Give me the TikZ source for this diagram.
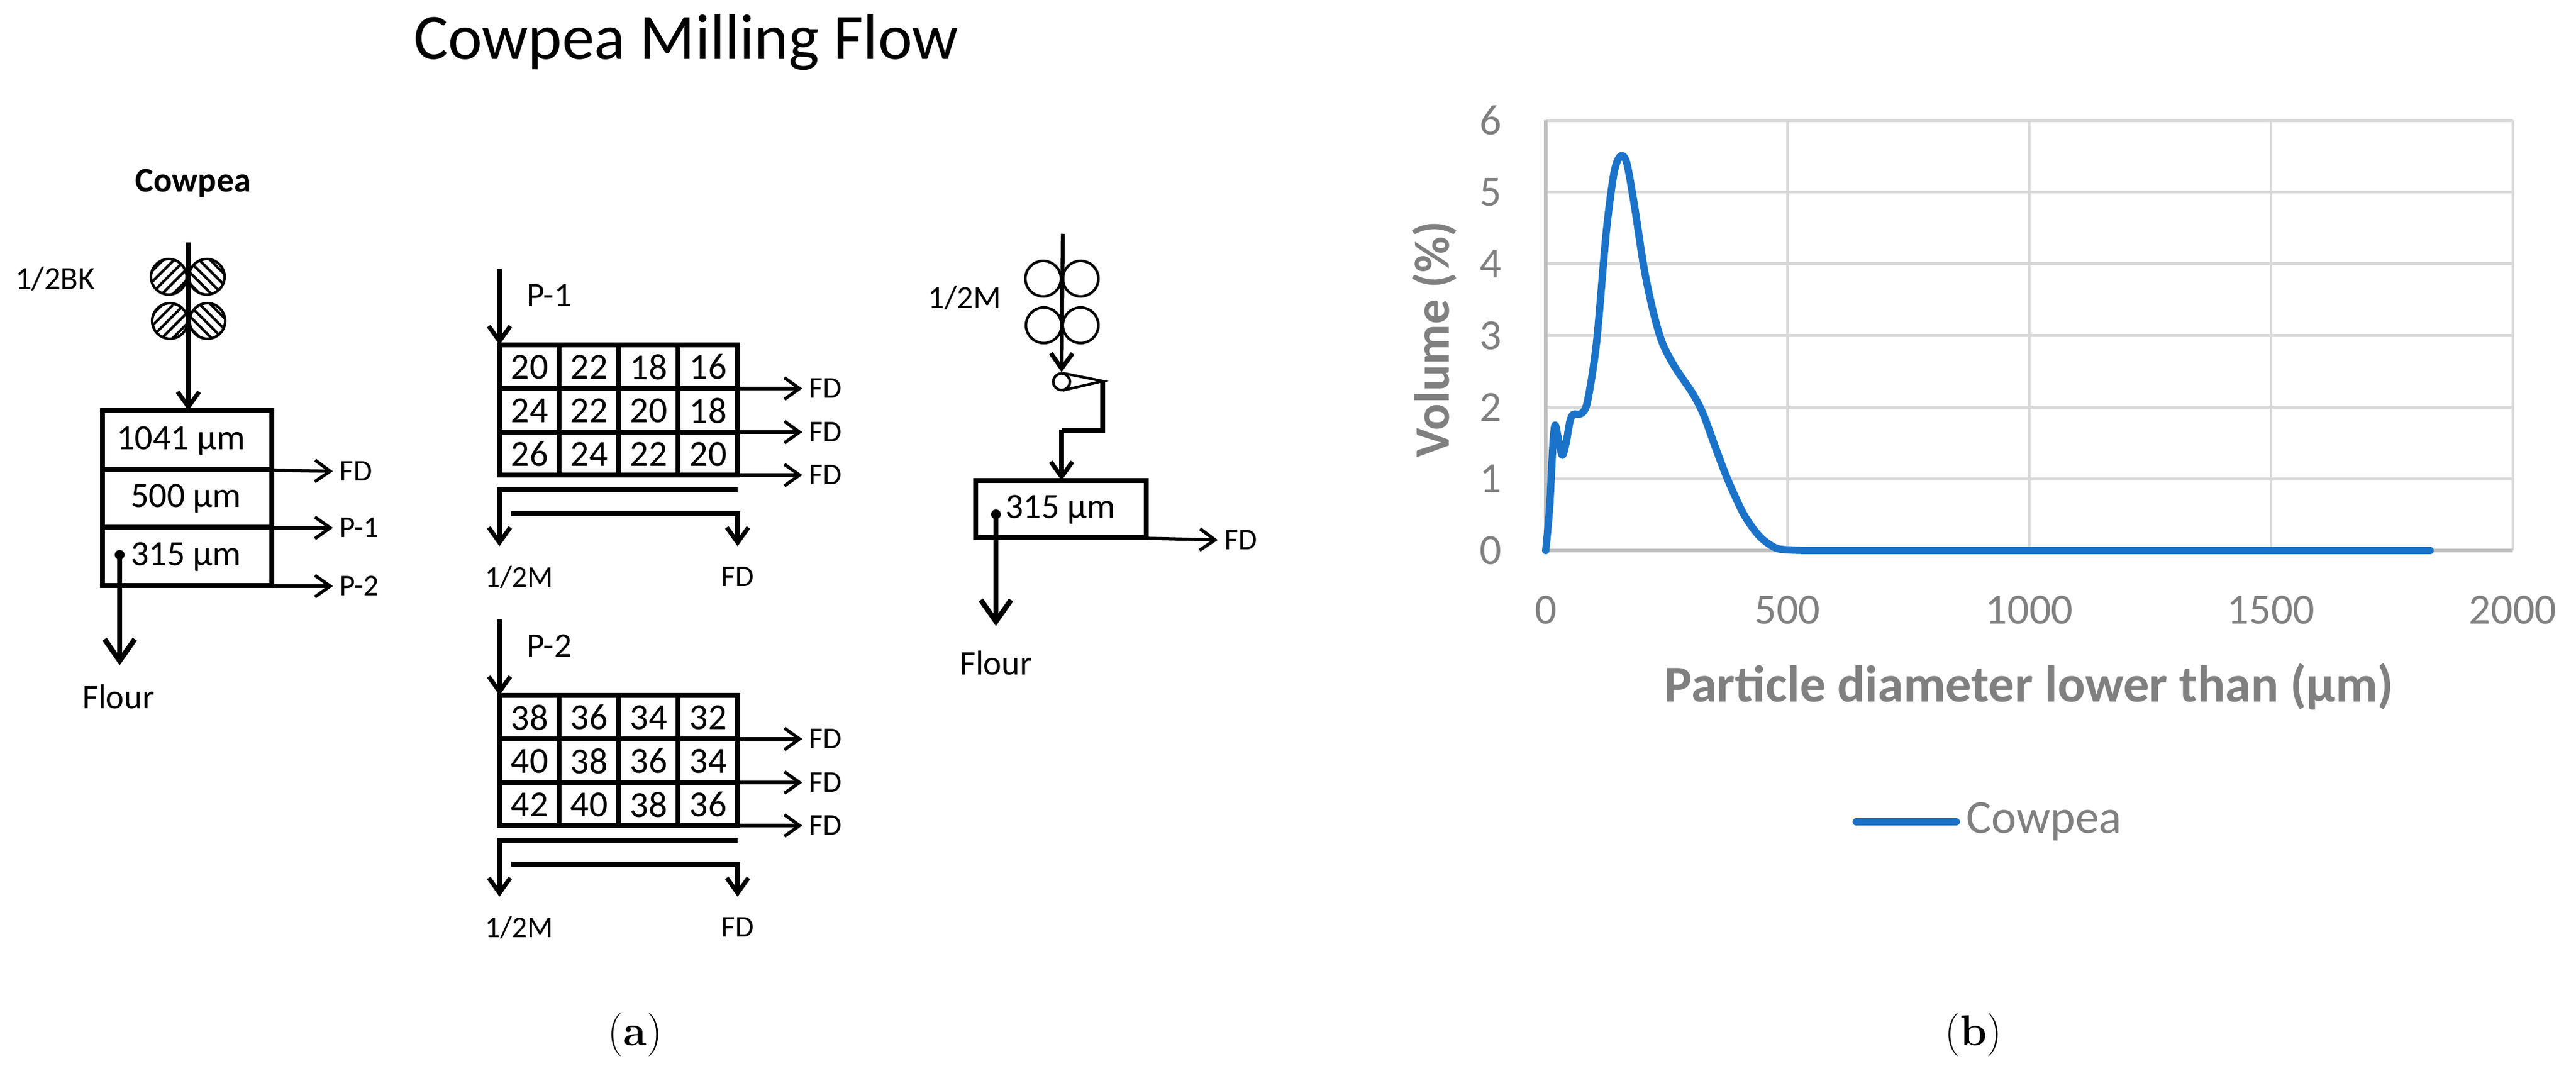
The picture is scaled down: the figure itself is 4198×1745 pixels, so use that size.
\documentclass[tikz,border=0pt]{standalone}
\usepackage{fontspec}
\setmainfont{Carlito}
\newfontfamily\lmfont{Latin Modern Roman}
\usetikzlibrary{arrows.meta,patterns.meta}
\definecolor{gridc}{HTML}{D9D9D9}
\definecolor{axc}{HTML}{BFBFBF}
\definecolor{txtc}{HTML}{808080}
\definecolor{curvec}{HTML}{1A73C8}
\newcommand{\fsz}[1]{\fontsize{#1}{#1}\selectfont}
\tikzset{
  every node/.style={inner sep=0pt},
  box/.style={line width=2.2pt},
  arr/.style={line width=1.5pt,shorten >=3pt,-{Straight Barb[length=7pt,width=10pt,line width=1.5pt]}},
  barr/.style={line width=2.2pt,-{Straight Barb[length=7pt,width=10pt,line width=2pt]}},
  farr/.style={line width=2.4pt,-{Straight Barb[length=10pt,width=14pt,line width=2.4pt]}},
  lab/.style={font=\fsz{14}},
  cell/.style={font=\fsz{17}},
  roll/.style={line width=1.2pt},
  hatchA/.style={roll,pattern={Lines[angle=45,distance=3.6pt,line width=1.2pt]}},
  hatchB/.style={roll,pattern={Lines[angle=-45,distance=3.6pt,line width=1.2pt]}},
  tick/.style={font=\fsz{20},text=txtc},
}
\begin{document}
\begin{tikzpicture}[x=0.1mm,y=-0.1mm]
\useasboundingbox (0,0) rectangle (4198,1745);
% title
\node[font=\fsz{30}] (title) at (1118,69) {Cowpea Milling Flow};
% ===== left block
\node[font=\bfseries\fsz{16}] (cow) at (315,298) {Cowpea};
\node[font=\fsz{15}] (bk) at (90,454) {1/2BK};
\draw[hatchA] (275,451) circle (29);
\draw[hatchB] (337,451) circle (29);
\draw[hatchA] (277,523) circle (29);
\draw[hatchB] (338,523) circle (29);
\coordinate (Lin) at (307,395);
\draw[box] (167,669) rectangle (443,954);
\draw[box] (167,765) -- (443,765);
\draw[box] (167,859) -- (443,859);
\coordinate (Ltop) at (307,669);
\draw[barr] (Lin) -- (Ltop);
\node[font=\fsz{16.5}] (s1) at (295,718) {1041 µm};
\node[font=\fsz{16.5}] (s2) at (303,812) {500 µm};
\node[font=\fsz{16.5}] (s3) at (303,907) {315 µm};
\fill (195,904) circle (8);
\coordinate (Ldot) at (195,904);
\node[font=\fsz{16}] (flour1) at (193,1135) {Flour};
\draw[farr] (Ldot) -- (195,1084);
\node[lab,anchor=west] (o1) at (553,768) {FD};
\node[lab,anchor=west] (o2) at (553,860) {P-1};
\node[lab,anchor=west] (o3) at (553,955) {P-2};
\draw[arr] (443,766) -- (o1.west);
\draw[arr] (443,860) -- (o2.west);
\draw[arr] (443,955) -- (o3.west);
% ===== middle blocks
\foreach \dy/\nm/\ra/\rb/\rc in {0/P-1/{20,22,18,16}/{24,22,20,18}/{26,24,22,20},
                                 571/P-2/{38,36,34,32}/{40,38,36,34}/{42,40,38,36}}{
  \begin{scope}[yshift=-\dy*0.1mm]
    \node[font=\fsz{16}] (pl) at (895,481) {\nm};
    \coordinate (pin) at (814,438);
    \coordinate (gtop) at (814,562);
    \draw[barr] (pin) -- (gtop);
    \draw[box] (814,562) rectangle (1202,774);
    \draw[box] (814,633) -- (1202,633);
    \draw[box] (814,704) -- (1202,704);
    \foreach \xx in {911,1008,1105} \draw[box] (\xx,562) -- (\xx,774);
    \foreach \v [count=\i] in \ra \node[cell] at (814+97*\i-48,598) {\v};
    \foreach \v [count=\i] in \rb \node[cell] at (814+97*\i-48,669) {\v};
    \foreach \v [count=\i] in \rc \node[cell] at (814+97*\i-48,740) {\v};
    \foreach \yy in {633,704,774}{
      \node[lab,anchor=west] (fd) at (1318,\yy) {FD};
      \draw[arr] (1202,\yy) -- (fd.west);
    }
    \node[lab] (m1) at (846,940) {1/2M};
    \node[lab] (m2) at (1202,940) {FD};
    \coordinate (t1) at (814,890);
    \coordinate (t2) at (1202,890);
    \draw[barr] (1202,798) -- (814,798) -- (t1);
    \draw[barr] (833,837) -- (1202,837) -- (t2);
  \end{scope}
}
% ===== right block
\node[font=\fsz{15}] (m3) at (1572,485) {1/2M};
\draw[roll] (1700,454) circle (29);
\draw[roll] (1761,454) circle (29);
\draw[roll] (1701,530) circle (29);
\draw[roll] (1761,530) circle (29);
\coordinate (Rin) at (1732,381);
\node[draw,circle,roll,minimum size=27*0.1mm] (small) at (1730,622) {};
\draw[barr,line width=1.8pt] (Rin) -- (small.north);
\draw[roll] (1732,608) -- (1797,621) -- (1732,636);
\draw[box] (1797,621) -- (1797,701) -- (1730,701);
\draw[box] (1590,783) rectangle (1868,876);
\coordinate (Rtop) at (1730,783);
\draw[barr] (1730,700) -- (Rtop);
\node[font=\fsz{16.5}] (s4) at (1728,830) {315 µm};
\fill (1623,838) circle (8);
\coordinate (Rdot) at (1623,838);
\node[font=\fsz{16}] (flour2) at (1623,1080) {Flour};
\draw[farr] (Rdot) -- (1623,1020);
\node[lab,anchor=west] (fd3) at (1995,880) {FD};
\draw[arr] (1868,877) -- (fd3.west);
% captions
\node[font=\lmfont\fsz{20}] (capa) at (1035,1686) {(\textbf{a})};
\node[font=\lmfont\fsz{20}] (capb) at (3216,1686) {(\textbf{b})};
% ===== chart
\begin{scope}[shift={(2519,897)},xscale=0.788,yscale=-116.8]
  \foreach \u in {1,...,6} \draw[gridc,line width=1.4pt] (0,\u) -- (2000,\u);
  \foreach \v in {500,1000,1500,2000} \draw[gridc,line width=1.4pt] (\v,0) -- (\v,6);
  \draw[axc,line width=1.6pt] (0,0) -- (2000,0);
  \draw[axc,line width=1.6pt] (0,0) -- (0,6);
  \foreach \u in {0,...,6} \node[tick,anchor=east] at (-90,\u) {\u};
  \foreach \v in {0,500,1000,1500,2000} \node[tick] at (\v,-0.83) {\v};
  \draw[curvec,line width=3.4pt,line join=round,line cap=round] plot[smooth,tension=0.5] coordinates {
   (0,0) (8,0.6) (15,1.5) (19.4,1.75) (25,1.6) (34,1.33) (42,1.5) (50,1.8) (57,1.9) (73,1.91) (86,2.07)
   (105,2.9) (125,4.43) (141,5.26) (154,5.5) (167,5.42) (183,4.83) (203,3.95) (222,3.34) (241,2.9)
   (267,2.56) (303,2.2) (326,1.9) (352,1.42) (377,0.98) (410,0.5) (442,0.2) (474,0.04) (500,0.01) (540,0)};
  \draw[curvec,line width=3.4pt,line cap=round] (540,0) -- (1829,0);
\end{scope}
\node[font=\bfseries\fsz{23},text=txtc,rotate=90] (ylab) at (2338,553) {Volume (\%)};
\node[font=\bfseries\fsz{24},text=txtc] (xlab) at (3307,1119) {Particle diameter lower than (µm)};
\draw[curvec,line width=3.4pt,line cap=round] (3025,1339) -- (3188,1339);
\node[font=\fsz{22},text=txtc,anchor=west] (leg) at (3204,1339) {Cowpea};
\end{tikzpicture}
\end{document}
